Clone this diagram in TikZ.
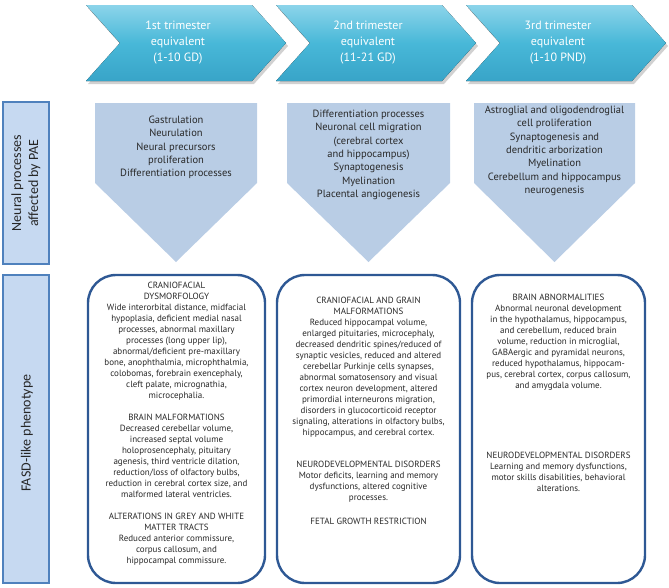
\documentclass[tikz,border=0pt]{standalone}
\usepackage{fontspec}
\setmainfont{PT Sans}
\newfontfamily\sidefont{Carlito}

\definecolor{chevronlight}{RGB}{140,212,234}
\definecolor{chevronmid}{RGB}{72,184,216}
\definecolor{chevrondark}{RGB}{56,164,200}
\definecolor{processfill}{RGB}{185,205,229}
\definecolor{labelfill}{RGB}{198,217,241}
\definecolor{labelline}{RGB}{79,129,189}
\definecolor{boxline}{RGB}{46,88,148}
\definecolor{bodytext}{RGB}{40,40,40}

\begin{document}
\begin{tikzpicture}[x=1pt, y=-1pt,
    trimester/.style ={top color=chevronlight, bottom color=chevrondark, middle color=chevronmid},
    trimshadow/.style ={fill=black, opacity=0.18},
    trimtext/.style ={align=center, text=white, font=\fontsize{12}{16}\selectfont},
    process/.style ={fill=processfill},
    proctext/.style ={align=center, text=bodytext, anchor=north, inner sep=0pt,
                      font=\fontsize{10.5}{13.3}\selectfont},
    sidelabel/.style ={draw=labelline, fill=labelfill, line width=1.2pt, minimum width=46pt, inner sep=0pt},
    sidetext/.style ={rotate=90, align=center, text=black!85, font=\sidefont\fontsize{14}{17}\selectfont},
    phenotype/.style ={draw=boxline, line width=2.4pt, rounded corners=28pt, fill=white, inner sep=0pt},
    phentext/.style ={align=center, text=bodytext, anchor=north, inner sep=0pt,
                      font=\fontsize{9}{11}\selectfont}]
   \useasboundingbox (0,0) rectangle (669,587);

   \fill[trimshadow] (88,8) -- (254,8) -- (288,46) -- (254,84) -- (88,84) -- (122,46) -- cycle;
   \fill[trimshadow] (278,8) -- (444,8) -- (478,46) -- (444,84) -- (278,84) -- (312,46) -- cycle;
   \fill[trimshadow] (468,8) -- (634,8) -- (668,46) -- (634,84) -- (468,84) -- (502,46) -- cycle;
   \fill[trimester] (86,5) -- (252,5) -- (286,43) -- (252,81) -- (86,81) -- (120,43) -- cycle;
   \fill[trimester] (276,5) -- (442,5) -- (476,43) -- (442,81) -- (276,81) -- (310,43) -- cycle;
   \fill[trimester] (466,5) -- (632,5) -- (666,43) -- (632,81) -- (466,81) -- (500,43) -- cycle;
   \node[trimtext] (first) at (178,43) {1st trimester\\equivalent\\(1-10 GD)};
   \node[trimtext] (second) at (368,43) {2nd trimester\\equivalent\\(11-21 GD)};
   \node[trimtext] (third) at (558,43) {3rd trimester\\equivalent\\(1-10 PND)};

   \node[sidelabel, minimum height=162pt] (neural) at (26,183) {};
   \node[sidetext] (neuraltext) at (26,183) {Neural processes\\affected by PAE};
   \node[sidelabel, minimum height=308pt] (fasd) at (26,429) {};
   \node[sidetext] (fasdtext) at (27,433) {FASD-like phenotype};

   \fill[process] (95,103) -- (257,103) -- (257,183) -- (176,262) -- (95,183) -- cycle;
   \fill[process] (287,103) -- (450,103) -- (450,183) -- (368.5,262) -- (287,183) -- cycle;
   \fill[process] (474,103) -- (635,103) -- (635,183) -- (554.5,262) -- (474,183) -- cycle;
   \node[proctext] (procA) at (176,116) {Gastrulation\\Neurulation\\Neural precursors\\proliferation\\Differentiation processes};
   \node[proctext] (procB) at (368.5,110) {Differentiation processes\\Neuronal cell migration\\(cerebral cortex\\and hippocampus)\\Synaptogenesis\\Myelination\\Placental angiogenesis};
   \node[proctext] (procC) at (554.5,106) {Astroglial and oligodendroglial\\cell proliferation\\Synaptogenesis and\\dendritic arborization\\Myelination\\Cerebellum and hippocampus\\neurogenesis};

   \node[phenotype, minimum width=177pt, minimum height=308pt] (boxA) at (176.5,429) {};
   \node[phenotype, minimum width=183pt, minimum height=308pt] (boxB) at (368.5,429) {};
   \node[phenotype, minimum width=173pt, minimum height=308pt] (boxC) at (558.5,429) {};
   \node[phentext] (textA) at (176.5,281.5) {CRANIOFACIAL\\DYSMORFOLOGY\\Wide interorbital distance, midfacial\\hypoplasia, deficient medial nasal\\processes, abnormal maxillary\\processes (long upper lip),\\abnormal/deficient pre-maxillary\\bone, anophthalmia, microphthalmia,\\colobomas, forebrain exencephaly,\\cleft palate, micrognathia,\\microcephalia.\\[11pt]
     BRAIN MALFORMATIONS\\Decreased cerebellar volume,\\increased septal volume\\holoprosencephaly, pituitary\\agenesis, third ventricle dilation,\\reduction/loss of olfactory bulbs,\\reduction in cerebral cortex size, and\\malformed lateral ventricles.\\[11pt]
     ALTERATIONS IN GREY AND WHITE\\MATTER TRACTS\\Reduced anterior commissure,\\corpus callosum, and\\hippocampal commissure.};
   \node[phentext] (textB) at (368.5,296.5) {CRANIOFACIAL AND GRAIN\\MALFORMATIONS\\Reduced hippocampal volume,\\enlarged pituitaries, microcephaly,\\decreased dendritic spines/reduced of\\synaptic vesicles, reduced and altered\\cerebellar Purkinje cells synapses,\\abnormal somatosensory and visual\\cortex neuron development, altered\\primordial interneurons migration,\\disorders in glucocorticoid receptor\\signaling, alterations in olfactory bulbs,\\hippocampus, and cerebral cortex.\\[21pt]
     NEURODEVELOPMENTAL DISORDERS\\Motor deficits, learning and memory\\dysfunctions, altered cognitive\\processes.\\[13pt]
     FETAL GROWTH RESTRICTION};
   \node[phentext] (textC) at (558.5,293.5) {BRAIN ABNORMALITIES\\Abnormal neuronal development\\in the hypothalamus, hippocampus,\\and cerebellum, reduced brain\\volume, reduction in microglial,\\GABAergic and pyramidal neurons,\\reduced hypothalamus, hippocam-\\pus, cerebral cortex, corpus callosum,\\and amygdala volume.\\[59pt]
     NEURODEVELOPMENTAL DISORDERS\\Learning and memory dysfunctions,\\motor skills disabilities, behavioral\\alterations.};
 \end{tikzpicture}
\end{document}
